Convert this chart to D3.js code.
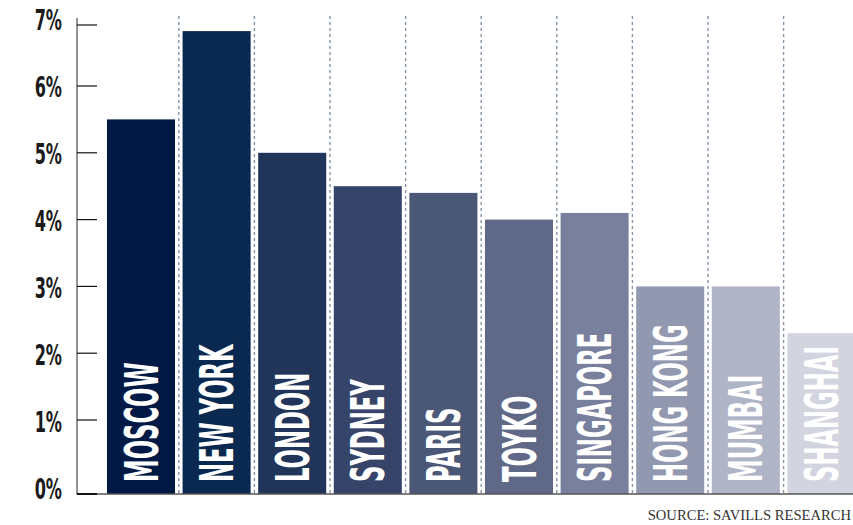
<!DOCTYPE html>
<html>
<head>
<meta charset="utf-8">
<script src="https://cdn.jsdelivr.net/npm/d3@7"></script>
<style>
  html, body { margin: 0; padding: 0; background: #fff; }
  svg { display: block; }
</style>
</head>
<body>
<svg id="chart" width="853" height="525"></svg>
<script>
// Prime office yields by city (%)
const cities = ["MOSCOW", "NEW YORK", "LONDON", "SYDNEY", "PARIS", "TOYKO", "SINGAPORE", "HONG KONG", "MUMBAI", "SHANGHAI"];
const yields = [5.5, 6.9, 5.0, 4.5, 4.4, 4.0, 4.1, 3.0, 3.0, 2.3];
const barColors = ["#001945", "#0a2950", "#213459", "#36446a", "#4b5777", "#5f6987", "#78809e", "#9298b0", "#b0b4c7", "#d2d4e0"];
const tickValues = [0, 1, 2, 3, 4, 5, 6, 7];
const sourceText = "SOURCE: SAVILLS RESEARCH";

const svg = d3.select("#chart");
const W = 853, H = 525;
const axisX = 77, baseY = 494, topY = 18;

// Vertical scale (slightly uneven spacing at the ends, as drawn)
const y = d3.scaleLinear().domain([0, 1, 6, 7]).range([494, 420, 86, 25]);
const yLabel = d3.scaleLinear().domain([0, 7]).range([489, 20]);

const x = d3.scaleBand()
  .domain(cities)
  .range([103.2, 859.2])
  .paddingInner(0.1)
  .paddingOuter(0.05);
const gap = x.step() * 0.05;

// dotted separators between bars
svg.append("g")
  .selectAll("line")
  .data(cities.slice(1))
  .join("line")
  .attr("x1", d => x(d) - gap)
  .attr("x2", d => x(d) - gap)
  .attr("y1", 16)
  .attr("y2", baseY)
  .attr("stroke", "#8494a6")
  .attr("stroke-width", 1.4)
  .attr("stroke-dasharray", "3,3");

// bars
const data = cities.map((c, i) => ({ city: c, value: yields[i], color: barColors[i] }));
svg.append("g")
  .selectAll("rect")
  .data(data)
  .join("rect")
  .attr("x", d => x(d.city))
  .attr("y", d => y(d.value))
  .attr("width", x.bandwidth())
  .attr("height", d => baseY - y(d.value))
  .attr("fill", d => d.color);

// city labels, rotated inside bars
const labelFont = "'Liberation Sans Narrow', 'DejaVu Sans Condensed', 'Liberation Sans', sans-serif";
svg.append("g")
  .selectAll("text")
  .data(data)
  .join("text")
  .attr("transform", d => `translate(${x(d.city) + x.bandwidth() / 2 + 16.5},482) rotate(-90) scale(0.55,1)`)
  .attr("font-family", labelFont)
  .attr("font-weight", "bold")
  .attr("font-size", 46)
  .attr("fill", "#fff")
  .text(d => d.city);

// baseline
svg.append("line")
  .attr("x1", axisX).attr("x2", W)
  .attr("y1", baseY).attr("y2", baseY)
  .attr("stroke", "#555").attr("stroke-width", 1.5);

// y axis line
svg.append("line")
  .attr("x1", axisX).attr("x2", axisX)
  .attr("y1", topY).attr("y2", baseY + 0.75)
  .attr("stroke", "#777").attr("stroke-width", 1.6);

// ticks
svg.append("g")
  .selectAll("line")
  .data(tickValues)
  .join("line")
  .attr("x1", axisX).attr("x2", 97)
  .attr("y1", d => y(d)).attr("y2", d => y(d))
  .attr("stroke", "#111")
  .attr("stroke-width", d => d === 0 ? 2 : 1.2);

// tick labels
svg.append("g")
  .selectAll("text")
  .data(tickValues)
  .join("text")
  .attr("transform", d => `translate(62,${yLabel(d) + 10}) scale(0.64,1)`)
  .attr("text-anchor", "end")
  .attr("font-family", labelFont)
  .attr("font-weight", "bold")
  .attr("font-size", 28)
  .attr("fill", "#1a1a1a")
  .text(d => d + "%");

// source note
svg.append("text")
  .attr("x", 851)
  .attr("y", 520)
  .attr("text-anchor", "end")
  .attr("font-family", "'Liberation Serif', 'Times New Roman', serif")
  .attr("font-size", 14.6)
  .attr("fill", "#333")
  .text(sourceText);
</script>
</body>
</html>
